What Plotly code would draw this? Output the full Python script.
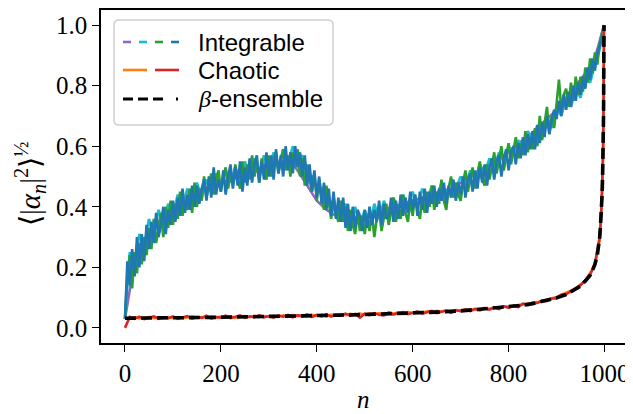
import plotly.graph_objects as go

# ---- data ----
# integrable runs, sampled every 5 (blue, green), 10 (cyan), 20 (purple); last point at n=999
blue_vals = [
    0.03, 0.22, 0.14, 0.26, 0.17, 0.30, 0.20, 0.31, 0.22, 0.34,
    0.26, 0.35, 0.28, 0.38, 0.30, 0.34, 0.40, 0.31, 0.39, 0.34,
    0.42, 0.35, 0.43, 0.37, 0.46, 0.38, 0.44, 0.39, 0.47, 0.40,
    0.47, 0.41, 0.46, 0.49, 0.42, 0.50, 0.43, 0.53, 0.44, 0.49,
    0.45, 0.52, 0.44, 0.50, 0.54, 0.46, 0.53, 0.47, 0.55, 0.45,
    0.53, 0.47, 0.56, 0.48, 0.54, 0.57, 0.48, 0.55, 0.49, 0.58,
    0.50, 0.57, 0.49, 0.59, 0.51, 0.57, 0.50, 0.60, 0.52, 0.58,
    0.51, 0.60, 0.53, 0.58, 0.50, 0.57, 0.47, 0.54, 0.45, 0.52,
    0.43, 0.50, 0.41, 0.48, 0.39, 0.46, 0.37, 0.45, 0.36, 0.43,
    0.35, 0.43, 0.33, 0.41, 0.32, 0.40, 0.33, 0.39, 0.37, 0.32,
    0.39, 0.33, 0.40, 0.34, 0.39, 0.35, 0.42, 0.34, 0.41, 0.36,
    0.37, 0.43, 0.35, 0.42, 0.36, 0.44, 0.37, 0.43, 0.38, 0.45,
    0.39, 0.44, 0.37, 0.45, 0.39, 0.46, 0.38, 0.45, 0.41, 0.47,
    0.40, 0.46, 0.42, 0.48, 0.41, 0.47, 0.43, 0.49, 0.42, 0.48,
    0.44, 0.50, 0.43, 0.49, 0.51, 0.45, 0.52, 0.46, 0.53, 0.48,
    0.54, 0.47, 0.53, 0.56, 0.49, 0.55, 0.57, 0.50, 0.56, 0.59,
    0.52, 0.58, 0.60, 0.54, 0.61, 0.56, 0.63, 0.57, 0.64, 0.59,
    0.65, 0.59, 0.67, 0.61, 0.68, 0.63, 0.70, 0.64, 0.69, 0.72,
    0.69, 0.75, 0.70, 0.77, 0.72, 0.78, 0.73, 0.80, 0.75, 0.81,
    0.77, 0.83, 0.79, 0.86, 0.82, 0.89, 0.85, 0.91, 0.93, 0.96,
    1.00,
]
green_vals = [
    0.03, 0.17, 0.24, 0.13, 0.25, 0.18, 0.28, 0.21, 0.30, 0.24,
    0.33, 0.26, 0.36, 0.28, 0.33, 0.38, 0.30, 0.40, 0.33, 0.42,
    0.34, 0.41, 0.36, 0.45, 0.37, 0.42, 0.39, 0.46, 0.38, 0.48,
    0.40, 0.46, 0.42, 0.50, 0.43, 0.47, 0.51, 0.44, 0.49, 0.52,
    0.45, 0.50, 0.53, 0.46, 0.51, 0.47, 0.54, 0.49, 0.46, 0.55,
    0.48, 0.54, 0.49, 0.57, 0.50, 0.55, 0.48, 0.56, 0.51, 0.49,
    0.57, 0.50, 0.56, 0.58, 0.51, 0.55, 0.59, 0.52, 0.57, 0.50,
    0.58, 0.53, 0.59, 0.50, 0.56, 0.47, 0.54, 0.49, 0.45, 0.51,
    0.42, 0.49, 0.44, 0.39, 0.47, 0.41, 0.36, 0.43, 0.38, 0.35,
    0.42, 0.35, 0.40, 0.32, 0.39, 0.34, 0.31, 0.38, 0.32, 0.37,
    0.31, 0.37, 0.32, 0.38, 0.30, 0.36, 0.39, 0.32, 0.37, 0.41,
    0.34, 0.39, 0.43, 0.35, 0.40, 0.36, 0.44, 0.38, 0.35, 0.42,
    0.37, 0.44, 0.39, 0.36, 0.43, 0.38, 0.45, 0.40, 0.47, 0.39,
    0.45, 0.41, 0.49, 0.42, 0.39, 0.46, 0.50, 0.43, 0.48, 0.44,
    0.42, 0.48, 0.52, 0.45, 0.49, 0.53, 0.46, 0.50, 0.55, 0.49,
    0.47, 0.54, 0.49, 0.53, 0.58, 0.51, 0.55, 0.60, 0.52, 0.57,
    0.61, 0.54, 0.58, 0.63, 0.56, 0.61, 0.57, 0.65, 0.58, 0.63,
    0.59, 0.66, 0.60, 0.70, 0.62, 0.67, 0.73, 0.64, 0.70, 0.66,
    0.74, 0.82, 0.72, 0.77, 0.79, 0.73, 0.81, 0.75, 0.83, 0.77,
    0.83, 0.78, 0.86, 0.81, 0.89, 0.84, 0.91, 0.87, 0.94, 0.97,
    1.00,
]
cyan_vals = [
    0.03, 0.25, 0.20, 0.31, 0.27, 0.36, 0.30, 0.39, 0.34, 0.41,
    0.37, 0.44, 0.40, 0.46, 0.41, 0.48, 0.43, 0.49, 0.45, 0.51,
    0.46, 0.52, 0.48, 0.53, 0.49, 0.55, 0.50, 0.56, 0.51, 0.57,
    0.52, 0.58, 0.53, 0.59, 0.54, 0.60, 0.55, 0.57, 0.52, 0.50,
    0.46, 0.44, 0.42, 0.40, 0.38, 0.37, 0.41, 0.32, 0.40, 0.34,
    0.39, 0.34, 0.41, 0.36, 0.42, 0.37, 0.43, 0.39, 0.44, 0.40,
    0.45, 0.40, 0.46, 0.42, 0.47, 0.43, 0.48, 0.44, 0.49, 0.46,
    0.50, 0.47, 0.52, 0.49, 0.54, 0.51, 0.56, 0.53, 0.58, 0.55,
    0.60, 0.57, 0.62, 0.59, 0.65, 0.62, 0.67, 0.64, 0.70, 0.66,
    0.73, 0.70, 0.76, 0.73, 0.79, 0.76, 0.83, 0.81, 0.87, 0.92,
    1.00,
]
purple_vals = [
    0.03, 0.22, 0.28, 0.33, 0.37, 0.40, 0.42, 0.44, 0.45, 0.47,
    0.48, 0.49, 0.50, 0.51, 0.52, 0.53, 0.54, 0.56, 0.52, 0.47,
    0.42, 0.39, 0.37, 0.36, 0.36, 0.37, 0.38, 0.39, 0.40, 0.41,
    0.42, 0.43, 0.44, 0.45, 0.46, 0.48, 0.50, 0.52, 0.54, 0.56,
    0.58, 0.61, 0.63, 0.66, 0.69, 0.72, 0.76, 0.80, 0.84, 0.89,
    1.00,
]

# chaotic runs, sampled every 10 up to 990, then the steep tail
chaotic_tail_n = [993, 995, 997, 998, 999]
red_vals = [
    0.000, 0.036, 0.030, 0.037, 0.029, 0.034, 0.038, 0.030, 0.035, 0.031,
    0.038, 0.030, 0.035, 0.039, 0.031, 0.036, 0.033, 0.040, 0.031, 0.036,
    0.034, 0.040, 0.032, 0.037, 0.041, 0.033, 0.038, 0.035, 0.042, 0.035,
    0.039, 0.034, 0.041, 0.037, 0.043, 0.035, 0.042, 0.038, 0.044, 0.036,
    0.043, 0.038, 0.045, 0.037, 0.044, 0.040, 0.047, 0.040, 0.046, 0.034,
    0.047, 0.042, 0.049, 0.043, 0.041, 0.050, 0.044, 0.049, 0.052, 0.045,
    0.050, 0.054, 0.047, 0.052, 0.056, 0.049, 0.054, 0.057, 0.050, 0.058,
    0.055, 0.060, 0.055, 0.062, 0.058, 0.065, 0.060, 0.067, 0.062, 0.071,
    0.066, 0.073, 0.069, 0.080, 0.075, 0.082, 0.082, 0.090, 0.089, 0.097,
    0.097, 0.109, 0.111, 0.122, 0.130, 0.141, 0.158, 0.175, 0.212, 0.300,
    0.37, 0.45, 0.57, 0.72, 1.00,
]
orange_vals = [
    0.030, 0.032, 0.035, 0.031, 0.034, 0.036, 0.032, 0.035, 0.031, 0.036,
    0.033, 0.036, 0.032, 0.035, 0.037, 0.033, 0.036, 0.034, 0.038, 0.034,
    0.037, 0.035, 0.038, 0.034, 0.037, 0.039, 0.035, 0.040, 0.036, 0.039,
    0.037, 0.040, 0.036, 0.041, 0.038, 0.042, 0.039, 0.041, 0.038, 0.043,
    0.040, 0.043, 0.039, 0.044, 0.041, 0.045, 0.042, 0.046, 0.043, 0.047,
    0.044, 0.048, 0.045, 0.049, 0.046, 0.050, 0.047, 0.051, 0.048, 0.052,
    0.050, 0.053, 0.051, 0.055, 0.053, 0.056, 0.054, 0.058, 0.056, 0.059,
    0.057, 0.061, 0.059, 0.063, 0.061, 0.065, 0.063, 0.068, 0.066, 0.071,
    0.070, 0.074, 0.074, 0.079, 0.079, 0.084, 0.085, 0.090, 0.093, 0.098,
    0.102, 0.109, 0.115, 0.124, 0.130, 0.143, 0.155, 0.181, 0.205, 0.290,
    0.36, 0.44, 0.58, 0.70, 1.00,
]

# beta-ensemble reference curve
beta_n = [0, 50, 100, 150, 200, 250, 300, 350, 400, 450, 500, 550, 600, 650,
          700, 750, 800, 825, 850, 875, 900, 920, 940, 950, 960, 970, 975,
          980, 985, 988, 990, 992, 994, 995, 996, 997, 998, 999]
beta_vals = [0.032, 0.032, 0.033, 0.034, 0.035, 0.036, 0.037, 0.039, 0.040,
             0.042, 0.044, 0.046, 0.049, 0.052, 0.056, 0.062, 0.069, 0.074,
             0.080, 0.088, 0.099, 0.110, 0.127, 0.138, 0.155, 0.174, 0.190,
             0.210, 0.240, 0.270, 0.300, 0.350, 0.400, 0.440, 0.500, 0.580,
             0.700, 1.000]

y_ticks = [0.0, 0.2, 0.4, 0.6, 0.8, 1.0]
x_ticks = [0, 200, 400, 600, 800, 1000]


def grid(vals, step):
    # sample positions: every `step`, last sample at n=999
    return [i * step for i in range(len(vals) - 1)] + [999]


def chaotic_n(vals):
    return [i * 10 for i in range(len(vals) - len(chaotic_tail_n))] + chaotic_tail_n


# page coords of the window; the html body has an 8px margin, so the figure is shrunk by it
W, H, OFF = 633, 414, 8
L, R, T, B = 101, 628, 10, 343

fig = go.Figure()

lw = 2.6
for vals, step, color in [(purple_vals, 20, "#9467bd"), (cyan_vals, 10, "#17becf"),
                          (green_vals, 5, "#2ca02c"), (blue_vals, 5, "#1f77b4")]:
    fig.add_trace(go.Scatter(x=grid(vals, step), y=vals, mode="lines",
                             line=dict(color=color, width=lw), showlegend=False))

for vals, color in [(orange_vals, "#ff7f0e"), (red_vals, "#d62728")]:
    fig.add_trace(go.Scatter(x=chaotic_n(vals), y=vals, mode="lines",
                             line=dict(color=color, width=lw), showlegend=False))

fig.add_trace(go.Scatter(x=beta_n, y=beta_vals, mode="lines",
                         line=dict(color="black", width=3.6, dash="11px,5px"),
                         showlegend=False))


# ---- hand-drawn legend (multi-coloured samples) ----
def px(x):
    return (x - L) / (R - L)


def py(y):
    return (B - y) / (B - T)


shapes = []
x0, x1, y0, y1, r = 114, 333, 20, 125, 5
path = (f"M {px(x0 + r)},{py(y0)} L {px(x1 - r)},{py(y0)} "
        f"Q {px(x1)},{py(y0)} {px(x1)},{py(y0 + r)} "
        f"L {px(x1)},{py(y1 - r)} Q {px(x1)},{py(y1)} {px(x1 - r)},{py(y1)} "
        f"L {px(x0 + r)},{py(y1)} Q {px(x0)},{py(y1)} {px(x0)},{py(y1 - r)} "
        f"L {px(x0)},{py(y0 + r)} Q {px(x0)},{py(y0)} {px(x0 + r)},{py(y0)} Z")
shapes.append(dict(type="path", path=path, xref="paper", yref="paper",
                   line=dict(color="#d0d0d0", width=1.5),
                   fillcolor="rgba(255,255,255,0.85)", layer="above"))


def seg(xa, xb, y, color, width=2.6):
    shapes.append(dict(type="line", xref="paper", yref="paper",
                       x0=px(xa), x1=px(xb), y0=py(y), y1=py(y),
                       line=dict(color=color, width=width), layer="above"))


for xa, color in [(123, "#9467bd"), (139, "#17becf"), (155, "#2ca02c"), (171, "#1f77b4")]:
    seg(xa, xa + 8, 42, color)
seg(123, 147, 70, "#ff7f0e")
seg(155, 179, 70, "#d62728")
for xa in [123, 138, 153]:
    seg(xa, xa + 10, 99, "black", 3)
seg(176, 178, 99, "black", 3)

legend_font = dict(family="Liberation Sans", size=24, color="black")
beta_txt = '<span style="font-family:Liberation Serif"><i>β</i></span>-ensemble'
annotations = []
for label, y in [("Integrable", 42), ("Chaotic", 71), (beta_txt, 99)]:
    annotations.append(dict(text=label, xref="paper", yref="paper", x=px(196), y=py(y),
                            xanchor="left", yanchor="middle", showarrow=False,
                            font=legend_font))

serif = dict(family="Liberation Serif", size=25, color="black")
annotations.append(dict(text="⟨|<i>α<sub>n</sub></i>|<sup>2</sup>⟩<sup>½</sup>",
                        xref="paper", yref="paper", x=px(30), y=py(184),
                        textangle=-90, showarrow=False,
                        font=dict(family="Liberation Serif", size=29, color="black"),
                        xanchor="center", yanchor="middle"))
annotations.append(dict(text="<i>n</i>", xref="paper", yref="paper", x=px(363), y=py(399),
                        showarrow=False, font=serif, xanchor="center", yanchor="middle"))

axis_common = dict(showline=True, linecolor="black", linewidth=1.6, mirror=True,
                   ticks="outside", ticklen=7, tickwidth=1.4, tickcolor="black",
                   showgrid=False, zeroline=False, tickfont=serif, automargin=False)

fig.update_layout(
    width=W - OFF, height=H - OFF,
    margin=dict(l=L - OFF, r=W - R, t=T - OFF, b=H - B, autoexpand=False),
    paper_bgcolor="white", plot_bgcolor="white",
    xaxis=dict(range=[-50, 1049], tickvals=x_ticks, **axis_common),
    yaxis=dict(range=[-0.05, 1.05], tickvals=y_ticks, tickformat=".1f", **axis_common),
    shapes=shapes, annotations=annotations,
    showlegend=False,
)

fig.write_html("out.html")
